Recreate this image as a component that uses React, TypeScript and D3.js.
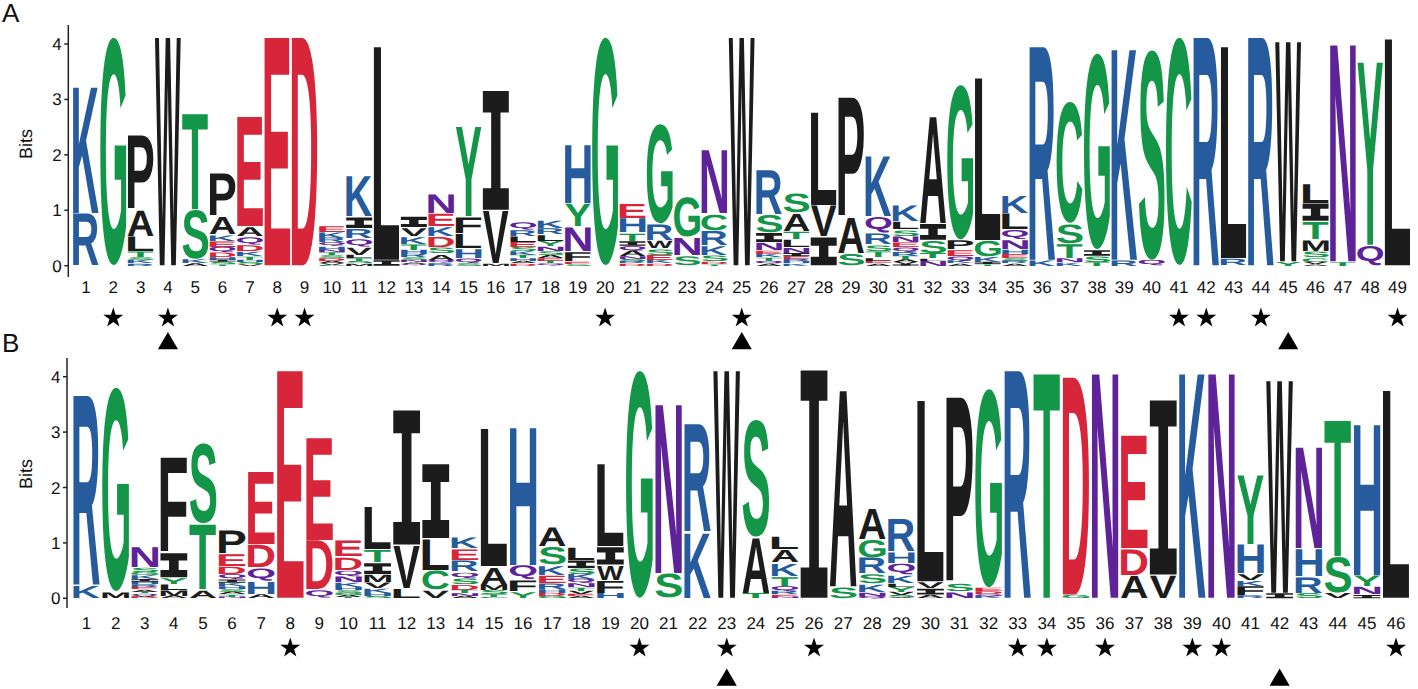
import React from "react";
import * as d3 from "d3";

type Stack = [string, number][];

// Each position lists letters from top of the stack to the bottom, with heights in bits
const stacksA: Stack[] = [
  [["K", 2.32], ["R", 0.95]],
  [["G", 4.13]],
  [["P", 1.35], ["A", 0.48], ["L", 0.28], ["T", 0.1], ["S", 0.05], ["K", 0.06], ["R", 0.04]],
  [["W", 4.13]],
  [["T", 1.76], ["S", 0.9], ["K", 0.07], ["A", 0.05]],
  [["P", 0.78], ["A", 0.33], ["K", 0.12], ["E", 0.1], ["Q", 0.1], ["D", 0.08], ["H", 0.05], ["I", 0.04], ["S", 0.04], ["T", 0.03]],
  [["E", 1.99], ["A", 0.18], ["Q", 0.15], ["D", 0.12], ["K", 0.08], ["T", 0.06], ["H", 0.04], ["S", 0.04], ["V", 0.03]],
  [["E", 4.13]],
  [["D", 4.13]],
  [["E", 0.12], ["K", 0.1], ["R", 0.08], ["Q", 0.07], ["H", 0.06], ["N", 0.05], ["T", 0.05], ["S", 0.05], ["D", 0.05], ["A", 0.04], ["V", 0.03], ["G", 0.02]],
  [["K", 0.75], ["I", 0.21], ["R", 0.18], ["Q", 0.15], ["V", 0.15], ["L", 0.06], ["T", 0.05], ["S", 0.04], ["M", 0.04]],
  [["L", 3.86], ["I", 0.1]],
  [["I", 0.2], ["V", 0.16], ["K", 0.14], ["T", 0.1], ["H", 0.08], ["R", 0.06], ["S", 0.05], ["N", 0.04], ["A", 0.03], ["Q", 0.03]],
  [["N", 0.36], ["E", 0.24], ["K", 0.18], ["D", 0.2], ["S", 0.12], ["A", 0.11], ["Q", 0.05], ["R", 0.05]],
  [["Y", 1.63], ["F", 0.3], ["L", 0.27], ["H", 0.18], ["Q", 0.08], ["S", 0.05]],
  [["I", 2.16], ["V", 0.96], ["M", 0.04]],
  [["Q", 0.15], ["R", 0.12], ["L", 0.1], ["E", 0.09], ["S", 0.08], ["K", 0.07], ["T", 0.06], ["H", 0.05], ["A", 0.04], ["D", 0.04]],
  [["K", 0.15], ["R", 0.12], ["L", 0.12], ["Y", 0.09], ["N", 0.08], ["S", 0.07], ["A", 0.06], ["E", 0.05], ["T", 0.05], ["Q", 0.04]],
  [["H", 1.08], ["Y", 0.42], ["N", 0.45], ["F", 0.18], ["E", 0.04], ["S", 0.03]],
  [["G", 4.13]],
  [["E", 0.27], ["H", 0.27], ["T", 0.15], ["I", 0.08], ["Q", 0.09], ["A", 0.1], ["N", 0.05], ["S", 0.04], ["R", 0.04], ["D", 0.04]],
  [["G", 1.81], ["R", 0.3], ["W", 0.15], ["S", 0.12], ["E", 0.09], ["K", 0.06], ["D", 0.04]],
  [["G", 0.73], ["N", 0.33], ["S", 0.18]],
  [["N", 1.17], ["C", 0.3], ["R", 0.27], ["K", 0.18], ["S", 0.12], ["D", 0.04], ["T", 0.03]],
  [["W", 4.13]],
  [["R", 0.81], ["S", 0.33], ["I", 0.18], ["N", 0.15], ["E", 0.06], ["K", 0.06], ["T", 0.06], ["Q", 0.05], ["A", 0.04]],
  [["S", 0.36], ["A", 0.33], ["T", 0.15], ["L", 0.15], ["N", 0.09], ["I", 0.06], ["E", 0.05], ["R", 0.04], ["H", 0.04], ["K", 0.04]],
  [["L", 1.69], ["V", 0.57], ["I", 0.52]],
  [["P", 2.17], ["A", 0.66], ["S", 0.22]],
  [["K", 1.11], ["Q", 0.3], ["R", 0.21], ["S", 0.12], ["T", 0.12], ["L", 0.05], ["E", 0.05], ["A", 0.04]],
  [["K", 0.3], ["L", 0.15], ["S", 0.12], ["N", 0.12], ["E", 0.08], ["Q", 0.08], ["R", 0.07], ["T", 0.06], ["A", 0.05], ["V", 0.04], ["I", 0.03]],
  [["A", 1.96], ["I", 0.3], ["S", 0.24], ["T", 0.09], ["L", 0.04], ["N", 0.09]],
  [["G", 2.8], ["P", 0.18], ["E", 0.12], ["Q", 0.08], ["K", 0.05], ["A", 0.04]],
  [["L", 2.94], ["G", 0.3], ["K", 0.09], ["I", 0.04], ["T", 0.03]],
  [["K", 0.33], ["L", 0.3], ["Q", 0.18], ["N", 0.18], ["H", 0.08], ["E", 0.07], ["S", 0.05], ["R", 0.05], ["A", 0.04]],
  [["R", 3.86], ["K", 0.1]],
  [["C", 2.2], ["S", 0.36], ["T", 0.27], ["N", 0.07], ["K", 0.06]],
  [["G", 3.55], ["I", 0.12], ["S", 0.1], ["T", 0.07]],
  [["K", 3.86], ["R", 0.1]],
  [["S", 3.8], ["Q", 0.1]],
  [["C", 4.13]],
  [["R", 4.13]],
  [["L", 3.83], ["R", 0.13]],
  [["R", 4.13]],
  [["W", 3.98], ["Y", 0.07]],
  [["L", 0.36], ["I", 0.33], ["T", 0.33], ["M", 0.21], ["S", 0.12], ["C", 0.07], ["V", 0.04], ["A", 0.03]],
  [["N", 3.98], ["T", 0.07]],
  [["Y", 3.31], ["Q", 0.37]],
  [["L", 4.1]],
];

const stacksB: Stack[] = [
  [["R", 3.43], ["K", 0.24]],
  [["G", 3.7], ["M", 0.12]],
  [["N", 0.38], ["S", 0.08], ["G", 0.06], ["K", 0.07], ["I", 0.05], ["H", 0.05], ["R", 0.05], ["E", 0.04], ["A", 0.04], ["T", 0.03], ["Q", 0.03], ["V", 0.03], ["D", 0.03]],
  [["F", 1.73], ["I", 0.45], ["Y", 0.12], ["L", 0.1], ["M", 0.1], ["A", 0.05]],
  [["S", 1.46], ["T", 1.2], ["A", 0.15]],
  [["P", 0.43], ["E", 0.23], ["D", 0.15], ["Q", 0.09], ["I", 0.06], ["K", 0.06], ["H", 0.05], ["S", 0.05], ["A", 0.05], ["T", 0.04], ["N", 0.03]],
  [["E", 1.32], ["D", 0.42], ["Q", 0.24], ["H", 0.24], ["A", 0.07]],
  [["E", 4.12]],
  [["E", 1.86], ["D", 0.9], ["Q", 0.15]],
  [["E", 0.3], ["D", 0.24], ["Q", 0.12], ["N", 0.1], ["K", 0.08], ["H", 0.06], ["S", 0.05], ["G", 0.04], ["A", 0.04], ["T", 0.02]],
  [["L", 0.78], ["T", 0.24], ["I", 0.21], ["M", 0.15], ["V", 0.1], ["K", 0.08], ["H", 0.06], ["S", 0.04]],
  [["I", 2.44], ["V", 0.78], ["L", 0.18]],
  [["I", 1.35], ["L", 0.57], ["C", 0.36], ["V", 0.15]],
  [["K", 0.21], ["E", 0.21], ["R", 0.21], ["Q", 0.12], ["S", 0.12], ["D", 0.09], ["T", 0.06], ["N", 0.05], ["A", 0.04]],
  [["L", 2.5], ["A", 0.33], ["M", 0.09], ["S", 0.08], ["T", 0.05], ["G", 0.02]],
  [["H", 2.53], ["Q", 0.27], ["F", 0.21], ["Y", 0.12]],
  [["A", 0.36], ["S", 0.33], ["K", 0.18], ["E", 0.15], ["R", 0.1], ["H", 0.07], ["D", 0.06], ["G", 0.04]],
  [["L", 0.24], ["I", 0.15], ["S", 0.1], ["K", 0.09], ["Q", 0.08], ["N", 0.07], ["T", 0.06], ["V", 0.06], ["E", 0.04], ["A", 0.04]],
  [["L", 1.5], ["I", 0.33], ["W", 0.27], ["F", 0.24], ["H", 0.09]],
  [["G", 4.12]],
  [["N", 3.1], ["S", 0.45]],
  [["R", 1.95], ["K", 1.2]],
  [["W", 4.12]],
  [["S", 2.13], ["A", 1.02], ["T", 0.09]],
  [["L", 0.24], ["A", 0.24], ["K", 0.24], ["T", 0.18], ["Q", 0.09], ["R", 0.06], ["E", 0.04], ["N", 0.03]],
  [["I", 4.12]],
  [["A", 3.6], ["S", 0.21]],
  [["A", 0.57], ["G", 0.33], ["R", 0.3], ["S", 0.18], ["K", 0.15], ["N", 0.06], ["Q", 0.05]],
  [["R", 0.6], ["H", 0.21], ["Q", 0.21], ["K", 0.15], ["L", 0.06], ["Y", 0.09], ["V", 0.06], ["S", 0.04], ["A", 0.02]],
  [["L", 3.28], ["V", 0.12], ["I", 0.12], ["A", 0.06]],
  [["P", 3.37], ["S", 0.15], ["N", 0.12]],
  [["G", 3.6], ["E", 0.06], ["D", 0.05], ["Q", 0.04], ["K", 0.04]],
  [["R", 4.12]],
  [["T", 4.12]],
  [["D", 3.94], ["G", 0.06]],
  [["N", 4.12]],
  [["E", 2.05], ["D", 0.48], ["A", 0.42]],
  [["I", 3.16], ["V", 0.42]],
  [["K", 4.12]],
  [["N", 4.12]],
  [["Y", 1.26], ["H", 0.54], ["V", 0.12], ["K", 0.09], ["F", 0.18], ["R", 0.05]],
  [["W", 3.85], ["I", 0.09]],
  [["N", 1.86], ["H", 0.51], ["R", 0.3], ["S", 0.09]],
  [["T", 2.5], ["S", 0.66], ["V", 0.09]],
  [["H", 2.77], ["Y", 0.21], ["N", 0.15], ["I", 0.06]],
  [["L", 3.76]],
];

const starsA = [2, 4, 8, 9, 20, 25, 41, 42, 44, 49];
const trianglesA = [4, 25, 45];
const starsB = [8, 20, 23, 26, 33, 34, 36, 39, 40, 46];
const trianglesB = [23, 42];
const bitTicks = [0, 1, 2, 3, 4];

const groupColors: Record<string, string> = {
  basic: "#265c9e",
  polar: "#139648",
  amide: "#5f2399",
  acidic: "#d72539",
  hydrophobic: "#1c1c1c",
};
const letterGroup: Record<string, string> = {
  K: "basic", R: "basic", H: "basic",
  G: "polar", S: "polar", T: "polar", Y: "polar", C: "polar",
  N: "amide", Q: "amide",
  D: "acidic", E: "acidic",
  A: "hydrophobic", V: "hydrophobic", L: "hydrophobic", I: "hydrophobic",
  P: "hydrophobic", W: "hydrophobic", F: "hydrophobic", M: "hydrophobic",
};

const FONT = '"Liberation Sans", Arial, Helvetica, sans-serif';

type Box = { l: number; r: number; a: number; d: number };
const cache: Record<string, Box> = {};
let ctx: CanvasRenderingContext2D | null = null;
function measure(ch: string): Box {
  if (cache[ch]) return cache[ch];
  if (!ctx) ctx = document.createElement("canvas").getContext("2d");
  let b: Box = { l: 0, r: 70, a: 72, d: 0 };
  if (ctx) {
    ctx.font = `bold 100px ${FONT}`;
    const m = ctx.measureText(ch);
    b = {
      l: m.actualBoundingBoxLeft,
      r: m.actualBoundingBoxRight,
      a: m.actualBoundingBoxAscent,
      d: m.actualBoundingBoxDescent,
    };
  }
  cache[ch] = b;
  return b;
}

function Glyph({ ch, x, y, w, h }: { ch: string; x: number; y: number; w: number; h: number }) {
  const color = groupColors[letterGroup[ch]] || "#000";
  if (h <= 0.2) return null;
  if (ch === "I") {
    const bar = Math.min(h * 0.3, 12 + 0.08 * h);
    const sw = w * 0.36;
    const sx0 = x + (w - sw) / 2;
    const d =
      `M${x},${y}H${x + w}V${y + bar}H${sx0 + sw}V${y + h - bar}H${x + w}V${y + h}` +
      `H${x}V${y + h - bar}H${sx0}V${y + bar}H${x}Z`;
    return <path d={d} fill={color} />;
  }
  const m = measure(ch);
  const sx = w / (m.l + m.r);
  const sy = h / (m.a + m.d);
  return (
    <text
      transform={`translate(${x},${y}) scale(${sx},${sy}) translate(${m.l},${m.a})`}
      fontFamily={FONT}
      fontWeight="bold"
      fontSize={100}
      fill={color}
    >
      {ch}
    </text>
  );
}

type PanelCfg = {
  name: string;
  stacks: Stack[];
  stars: number[];
  tris: number[];
  x0: number;
  x1: number;
  pad: number;
  yBase: number;
  yFour: number;
  axisX: number;
  axisTop: number;
  axisBot: number;
  labelY: number;
  starY: number;
  triY: number;
  nameY: number;
  bitsY: number;
};

const panels: PanelCfg[] = [
  {
    name: "A", stacks: stacksA, stars: starsA, tris: trianglesA,
    x0: 72.3, x1: 1411.2, pad: 0.05, yBase: 265.7, yFour: 44,
    axisX: 68.3, axisTop: 25, axisBot: 277, labelY: 293, starY: 318, triY: 343.5, nameY: 22, bitsY: 144,
  },
  {
    name: "B", stacks: stacksB, stars: starsB, tris: trianglesB,
    x0: 72, x1: 1410.6, pad: 0.08, yBase: 598.3, yFour: 376.7,
    axisX: 67, axisTop: 358, axisBot: 608, labelY: 629, starY: 648, triY: 680, nameY: 352, bitsY: 474,
  },
];

function Panel({ cfg }: { cfg: PanelCfg }) {
  const positions = cfg.stacks.map((_, i) => String(i + 1));
  const x = d3
    .scaleBand<string>()
    .domain(positions)
    .range([cfg.x0, cfg.x1])
    .paddingInner(cfg.pad)
    .paddingOuter(cfg.pad / 2);
  const y = d3.scaleLinear().domain([0, 4]).range([cfg.yBase, cfg.yFour]);
  const bw = x.bandwidth();
  const cx = (p: number) => (x(String(p)) as number) + bw / 2;
  const star = d3.symbol(d3.symbolStar, 124)() as string;
  const tri = d3.symbol(d3.symbolTriangle, 175)() as string;

  return (
    <g>
      <text x={2} y={cfg.nameY} fontFamily={FONT} fontSize={26} fill="#111">
        {cfg.name}
      </text>
      <text
        transform={`translate(${32},${cfg.bitsY}) rotate(-90)`}
        textAnchor="middle"
        fontFamily={FONT}
        fontSize={18}
        fill="#111"
      >
        Bits
      </text>
      <line x1={cfg.axisX} x2={cfg.axisX} y1={cfg.axisTop} y2={cfg.axisBot} stroke="#222" strokeWidth={1.5} />
      {bitTicks.map((t) => (
        <g key={t}>
          <line x1={cfg.axisX - 4} x2={cfg.axisX} y1={y(t)} y2={y(t)} stroke="#222" strokeWidth={1.5} />
          <text x={cfg.axisX - 6.5} y={y(t) + 6} textAnchor="end" fontFamily={FONT} fontSize={17} fill="#111">
            {t}
          </text>
        </g>
      ))}
      {cfg.stacks.map((stack, i) => {
        const pos = positions[i];
        const left = x(pos) as number;
        const bottomUp = [...stack].reverse();
        let cum = 0;
        const glyphs = bottomUp.map(([ch, v], j) => {
          const yb = y(cum);
          const yt = y(cum + v);
          cum += v;
          const h = yb - yt;
          const inset = h > 6 ? 0.5 : 0;
          return <Glyph key={j} ch={ch} x={left} y={yt + inset} w={bw} h={h - 2 * inset} />;
        });
        return (
          <g key={pos}>
            {glyphs}
            <text x={left + bw / 2} y={cfg.labelY} textAnchor="middle" fontFamily={FONT} fontSize={17} fill="#111">
              {pos}
            </text>
          </g>
        );
      })}
      {cfg.stars.map((p) => (
        <path key={"s" + p} d={star} transform={`translate(${cx(p)},${cfg.starY})`} fill="#000" />
      ))}
      {cfg.tris.map((p) => (
        <path key={"t" + p} d={tri} transform={`translate(${cx(p)},${cfg.triY})`} fill="#000" />
      ))}
    </g>
  );
}

export default function App() {
  return (
    <svg
      width={1418}
      height={689}
      style={{ position: "absolute", left: 0, top: 0, background: "#fff" }}
      textRendering="geometricPrecision"
    >
      <rect width={1418} height={689} fill="#fff" />
      {panels.map((p) => (
        <Panel key={p.name} cfg={p} />
      ))}
    </svg>
  );
}
